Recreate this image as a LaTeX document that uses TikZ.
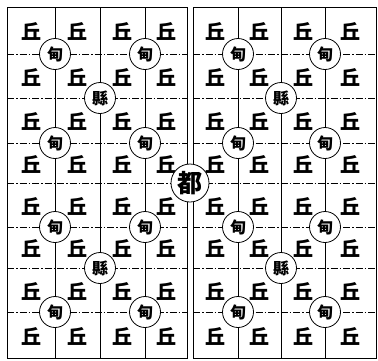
\documentclass[tikz,border=0pt]{standalone}
\usepackage{fontspec}
\newfontfamily\cjk{Noto Sans CJK SC}
\begin{document}
\begin{tikzpicture}[x=1pt,y=-1pt,
  gridv/.style={line width=0.8pt},
  gridh/.style={line width=0.8pt,dash pattern=on 7pt off 2pt on 1.5pt off 2pt},
  qiu/.style={inner sep=0pt,font=\cjk\bfseries\fontsize{20}{20}\selectfont},
  dian/.style={circle,draw,line width=0.8pt,fill=white,minimum size=31pt,inner sep=0pt,font=\cjk\bfseries\fontsize{16}{16}\selectfont},
  xian/.style={dian},
  du/.style={circle,draw,line width=0.8pt,fill=white,minimum size=38pt,inner sep=0pt,font=\cjk\bfseries\fontsize{25}{25}\selectfont}]
\useasboundingbox (0,0) rectangle (378,360);
% borders
\draw[gridv] (7,7) rectangle (187,358);
\draw[gridv] (193,7) rectangle (376,358);
% vertical lines
\foreach \x in {55,100,145,238,281,325} \draw[gridv] (\x,7) -- (\x,358);
% horizontal lines
\foreach \y in {54,98,143,183,227,268,312} {
  \draw[gridh] (7,\y) -- (187,\y);
  \draw[gridh] (193,\y) -- (376,\y);
}
% qiu characters
\foreach \x [count=\i] in {31,77.5,122.5,166,215.5,259.5,303,350.5}
  \foreach \y [count=\j] in {31,77,121,164,206,248.5,291,336}
    \node[qiu] (q-\i-\j) at (\x,\y) {丘};
% dian circles
\foreach \x/\y [count=\k] in {55/54,145/54,55/143,145/143,55/227,145/227,55/312,145/312,
  238/54,325/54,238/143,325/143,238/227,325/227,238/312,325/312}
  \node[dian] (d\k) at (\x,\y) {甸};
% xian circles
\foreach \x/\y [count=\k] in {100/98,100/268,281/98,281/268}
  \node[xian] (x\k) at (\x,\y) {縣};
% du
\node[du] (du) at (190,183) {都};
\end{tikzpicture}
\end{document}
